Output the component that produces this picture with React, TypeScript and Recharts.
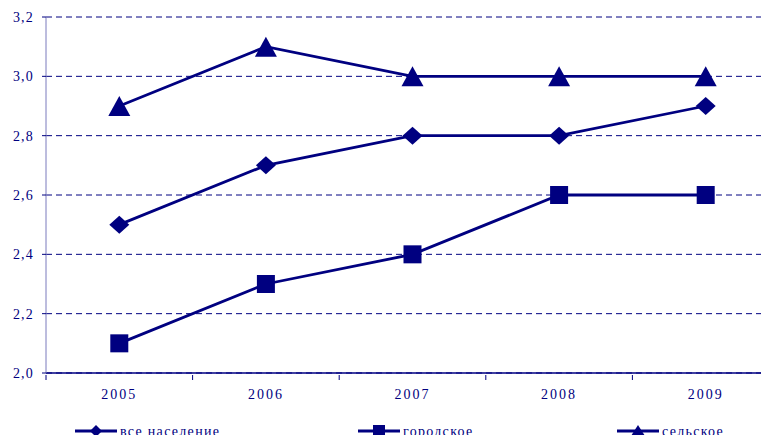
import React from 'react';
import { LineChart, Line, XAxis, YAxis, CartesianGrid } from 'recharts';

const years = ['2005', '2006', '2007', '2008', '2009'];
const allPopulation = [2.5, 2.7, 2.8, 2.8, 2.9];
const urban = [2.1, 2.3, 2.4, 2.6, 2.6];
const rural = [2.9, 3.1, 3.0, 3.0, 3.0];
const yTicks = [2.0, 2.2, 2.4, 2.6, 2.8, 3.0, 3.2];

const seriesNames = {
  all: 'все население',
  urban: 'городское',
  rural: 'сельское',
};

const chartData = years.map((year, i) => ({
  year,
  all: allPopulation[i],
  urban: urban[i],
  rural: rural[i],
}));

const NAVY = '#000080';
const FONT = '"Liberation Serif", "Times New Roman", serif';

const Diamond = ({ cx, cy, w = 10, h = 9 }: any) => {
  if (cx == null || cy == null) return null;
  return <path d={`M${cx},${cy - h}L${cx + w},${cy}L${cx},${cy + h}L${cx - w},${cy}Z`} fill={NAVY} />;
};

const Square = ({ cx, cy, s = 9 }: any) => {
  if (cx == null || cy == null) return null;
  return <rect x={cx - s} y={cy - s} width={s * 2} height={s * 2} fill={NAVY} />;
};

const Triangle = ({ cx, cy, w = 11, up = 10, down = 10 }: any) => {
  if (cx == null || cy == null) return null;
  return <path d={`M${cx},${cy - up}L${cx + w},${cy + down}L${cx - w},${cy + down}Z`} fill={NAVY} />;
};

// category label plus tick marks on the band edges (like Excel "between categories")
const YearTick = ({ x, y, payload }: any) => {
  const half = payload.offset || 0;
  const last = payload.index === years.length - 1;
  return (
    <g>
      <line x1={x - half} y1={y} x2={x - half} y2={y + 5} stroke={NAVY} />
      {last && <line x1={x + half} y1={y} x2={x + half} y2={y + 5} stroke={NAVY} />}
      <text
        x={x}
        y={y + 24}
        textAnchor="middle"
        fill={NAVY}
        fontSize={14}
        fontFamily={FONT}
        letterSpacing={2}
      >
        {payload.value}
      </text>
    </g>
  );
};

const legendItems = [
  { key: 'all', left: 75, marker: <Diamond cx={21} cy={7} w={6} h={6} /> },
  { key: 'urban', left: 358, marker: <Square cx={21} cy={7} s={6} /> },
  { key: 'rural', left: 617, marker: <Triangle cx={21} cy={7} w={7} up={6} down={5} /> },
];

const ChartLegend = () => (
  <svg width={769} height={16} style={{ display: 'block', position: 'absolute', left: 0, top: 424 }}>
    {legendItems.map((item) => (
      <g key={item.key} transform={`translate(${item.left},0)`}>
        <line x1={0} y1={7} x2={42} y2={7} stroke={NAVY} strokeWidth={3} />
        {item.marker}
        <text x={45} y={12} fill={NAVY} fontSize={14} fontFamily={FONT} letterSpacing={1.3}>
          {seriesNames[item.key as keyof typeof seriesNames]}
        </text>
      </g>
    ))}
  </svg>
);

export default function App() {
  return (
    <div style={{ width: 769, height: 443, overflow: 'hidden', margin: -8, position: 'relative', background: '#fff' }}>
      <LineChart
        width={790}
        height={443}
        data={chartData}
        margin={{ top: 17, right: 11, left: 0, bottom: 18 }}
      >
        <CartesianGrid vertical={false} stroke={NAVY} strokeDasharray="6 4" />
        <XAxis
          dataKey="year"
          scale="band"
          height={52}
          axisLine={{ stroke: NAVY, strokeWidth: 1.5 }}
          tickLine={false}
          tickSize={0}
          interval={0}
          tick={<YearTick />}
        />
        <YAxis
          width={46}
          domain={[2.0, 3.2]}
          ticks={yTicks}
          interval={0}
          tickSize={4}
          tickMargin={8}
          axisLine={{ stroke: '#7b7bbd' }}
          tickLine={{ stroke: NAVY }}
          tickFormatter={(v: number) => v.toFixed(1).replace('.', ',')}
          tick={{ fill: NAVY, fontSize: 14, fontFamily: FONT, letterSpacing: 1.2 }}
        />
        <Line
          dataKey="all"
          name={seriesNames.all}
          stroke={NAVY}
          strokeWidth={2.8}
          dot={<Diamond />}
          activeDot={false}
          isAnimationActive={false}
        />
        <Line
          dataKey="urban"
          name={seriesNames.urban}
          stroke={NAVY}
          strokeWidth={2.8}
          dot={<Square />}
          activeDot={false}
          isAnimationActive={false}
        />
        <Line
          dataKey="rural"
          name={seriesNames.rural}
          stroke={NAVY}
          strokeWidth={2.8}
          dot={<Triangle />}
          activeDot={false}
          isAnimationActive={false}
        />
      </LineChart>
      <ChartLegend />
    </div>
  );
}
